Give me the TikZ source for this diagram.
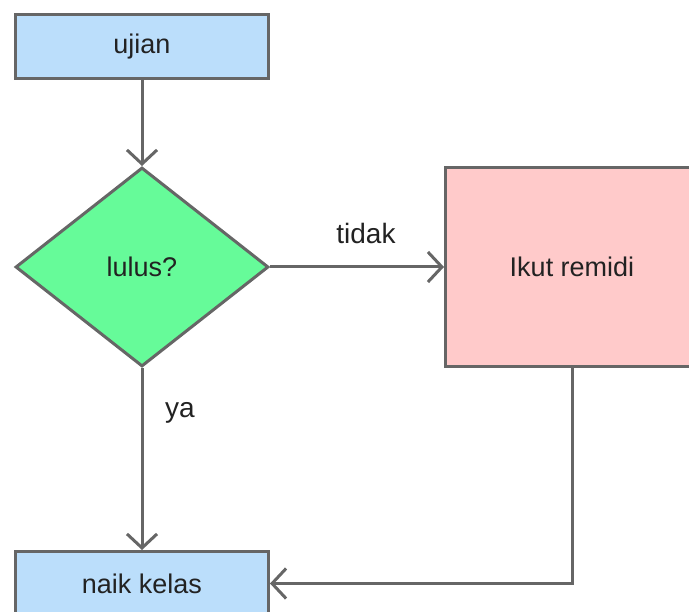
\documentclass[tikz,border=0pt]{standalone}
\usepackage{fontspec}
\setmainfont{Liberation Sans}
\usepackage{tikz}
\usetikzlibrary{arrows.meta,positioning,shapes.geometric}

\definecolor{edgegray}{HTML}{666666}
\definecolor{boxblue}{HTML}{BBDEFB}
\definecolor{boxgreen}{HTML}{66FB99}
\definecolor{boxpink}{HTML}{FFCACA}
\definecolor{txtdark}{HTML}{222222}

\begin{document}
\begin{tikzpicture}[x=1pt,y=-1pt,>={Straight Barb[length=14pt,width=30pt]},line width=3pt]
\useasboundingbox (0,0) rectangle (689,612);
\node[draw=edgegray,fill=boxblue,minimum width=253pt,minimum height=64pt,align=center,font=\fontsize{27}{32}\selectfont,text=txtdark,inner sep=2pt] (ujian) at (142,46.5) {ujian};
\node[draw=edgegray,fill=boxgreen,diamond,minimum width=253pt,minimum height=199pt,align=center,font=\fontsize{27}{32}\selectfont,text=txtdark,inner sep=2pt] (lulus) at (142,267) {lulus?};
\node[draw=edgegray,fill=boxpink,minimum width=253pt,minimum height=199pt,align=center,font=\fontsize{27}{32}\selectfont,text=txtdark,inner sep=2pt] (remidi) at (572,267) {Ikut remidi};
\node[draw=edgegray,fill=boxblue,minimum width=253pt,minimum height=64pt,align=center,font=\fontsize{27}{32}\selectfont,text=txtdark,inner sep=2pt] (naik) at (142,583.5) {naik kelas};
\draw[->,draw=edgegray] (ujian.south)--(lulus.north);
\draw[->,draw=edgegray] (lulus.east)--(remidi.west);
\draw[->,draw=edgegray] (lulus.south)--(naik.north);
\draw[->,draw=edgegray] (remidi.south)|-(naik.east);
\node[font=\fontsize{28}{33}\selectfont,text=txtdark] (lbl_tidak) at (366,233) {tidak};
\node[font=\fontsize{28}{33}\selectfont,text=txtdark] (lbl_ya) at (180,413) {ya};
\end{tikzpicture}
\end{document}
